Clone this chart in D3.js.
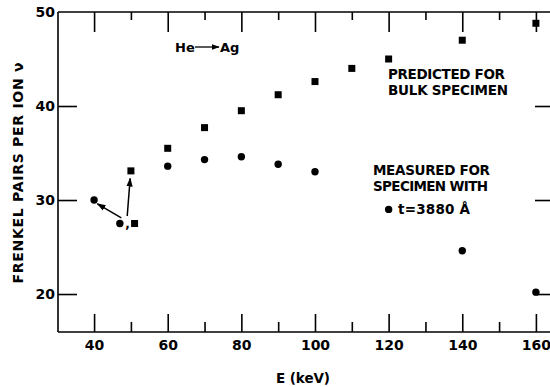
<!DOCTYPE html>
<html><head><meta charset="utf-8">
<script src="https://cdn.jsdelivr.net/npm/d3@7"></script>
<style>
body{margin:0;background:#fff;}
svg{display:block;}
text{fill:#000;}
</style></head>
<body>
<svg id="chart" width="550" height="387"></svg>
<script>
// ---- data ----
const predictedE = [50, 51, 60, 70, 80, 90, 100, 110, 120, 140, 160];
const predictedV = [33.1, 27.5, 35.5, 37.7, 39.5, 41.2, 42.6, 44.0, 45.0, 47.0, 48.8];
const measuredE = [40, 47, 60, 70, 80, 90, 100, 120, 140, 160];
const measuredV = [30.0, 27.5, 33.6, 34.3, 34.6, 33.8, 33.0, 29.0, 24.6, 20.2];
const xMajorTicks = [40, 60, 80, 100, 120, 140, 160];
const xMinorTicks = [50, 70, 90, 110, 130, 150];
const yTicks = [20, 30, 40, 50];
const yRightTicks = [20, 30, 40];
// annotation arrows [fromE, fromV, toE, toV]
const arrows = [[47.4, 28.1, 40.9, 29.6], [49.0, 28.3, 49.8, 32.3]];

const svg = d3.select("#chart");
const x = d3.scaleLinear().domain([30.2, 164.1]).range([58, 551]);
const y = d3.scaleLinear().domain([15.96, 50]).range([332, 12]);

svg.append("defs").append("marker")
  .attr("id","ah").attr("viewBox","0 0 10 10").attr("refX",9).attr("refY",5)
  .attr("markerWidth",6).attr("markerHeight",6).attr("orient","auto")
  .append("path").attr("d","M0,1.5 L10,5 L0,8.5 Z").attr("fill","#000");

const font = "'DejaVu Sans', sans-serif";
const sw = 1.6;

// frame
svg.append("line").attr("x1",x.range()[0]).attr("x2",x.range()[0]).attr("y1",y.range()[1]).attr("y2",y.range()[0]).attr("stroke","#000").attr("stroke-width",sw);
svg.append("line").attr("x1",x.range()[0]).attr("x2",x.range()[1]).attr("y1",y.range()[1]).attr("y2",y.range()[1]).attr("stroke","#000").attr("stroke-width",sw);
svg.append("line").attr("x1",x.range()[0]).attr("x2",x.range()[1]).attr("y1",y.range()[0]).attr("y2",y.range()[0]).attr("stroke","#000").attr("stroke-width",sw);

// bottom axis (ticks inward)
const gB = svg.append("g").attr("transform",`translate(0,${y.range()[0]})`)
  .call(d3.axisBottom(x).tickValues(xMajorTicks).tickSize(-18).tickPadding(-1).tickFormat(d3.format("d")));
const gBm = svg.append("g").attr("transform",`translate(0,${y.range()[0]})`)
  .call(d3.axisBottom(x).tickValues(xMinorTicks).tickSize(-10).tickFormat(""));
gB.selectAll("text").attr("dy","19px");
// top axis
const gT = svg.append("g").attr("transform",`translate(0,${y.range()[1]})`)
  .call(d3.axisTop(x).tickValues(xMajorTicks).tickSize(-20).tickFormat(""));
const gTm = svg.append("g").attr("transform",`translate(0,${y.range()[1]})`)
  .call(d3.axisTop(x).tickValues(xMinorTicks).tickSize(-8).tickFormat(""));
// left axis
const gL = svg.append("g").attr("transform",`translate(${x.range()[0]},0)`)
  .call(d3.axisLeft(y).tickValues(yTicks).tickSize(-19).tickPadding(3).tickFormat(d3.format("d")));
gL.selectAll("line").filter(d=>d===50).remove();
// right axis
const gR = svg.append("g").attr("transform",`translate(${x.range()[1]},0)`)
  .call(d3.axisRight(y).tickValues(yRightTicks).tickSize(-16).tickFormat(""));

svg.selectAll(".domain").remove();
svg.selectAll(".tick line").attr("stroke","#000").attr("stroke-width",sw);
svg.selectAll(".tick text").attr("font-family",font).attr("font-size",14).attr("font-weight","bold").attr("fill","#000");

// data
const pred = predictedE.map((e,i)=>({e, v:predictedV[i]}));
const meas = measuredE.map((e,i)=>({e, v:measuredV[i]}));
const s = 7;
svg.append("g").selectAll("rect").data(pred).join("rect")
  .attr("x",d=>x(d.e)-s/2).attr("y",d=>y(d.v)-s/2).attr("width",s).attr("height",s).attr("fill","#000");
svg.append("g").selectAll("circle").data(meas).join("circle")
  .attr("cx",d=>x(d.e)).attr("cy",d=>y(d.v)).attr("r",3.7).attr("fill","#000");

// arrows
svg.append("g").selectAll("line").data(arrows).join("line")
  .attr("x1",d=>x(d[0])).attr("y1",d=>y(d[1])).attr("x2",d=>x(d[2])).attr("y2",d=>y(d[3]))
  .attr("stroke","#000").attr("stroke-width",1.5).attr("marker-end","url(#ah)");
// comma between the two points
svg.append("text").attr("x",x(49.1)).attr("y",y(27.5)+4).attr("font-family",font).attr("font-weight","bold").attr("font-size",12).attr("text-anchor","middle").text(",");

// labels (x, y in pixels of layout; width = text length)
const lab = (txt, px, py, size, len) => {
  const t = svg.append("text").attr("x",px).attr("y",py).attr("font-family",font)
    .attr("font-weight","bold").attr("font-size",size).attr("dominant-baseline","central").text(txt);
  if (len) t.attr("textLength",len).attr("lengthAdjust","spacing");
  return t;
};

lab("He", 175, 47, 13);
svg.append("line").attr("x1",195).attr("y1",47).attr("x2",219).attr("y2",47)
  .attr("stroke","#000").attr("stroke-width",1.3).attr("marker-end","url(#ah)");
lab("Ag", 220, 47, 13);

lab("PREDICTED FOR", 388, 74, 13.5, 117);
lab("BULK SPECIMEN", 388, 90, 13.5, 120);
lab("MEASURED FOR", 373, 170, 13.5, 117);
lab("SPECIMEN WITH", 373, 186, 13.5, 115);
lab("t=3880 Å", 398, 209, 13.5, 72);

// axis titles
lab("E (keV)", 276, 378, 13.5, 54);
svg.append("text").attr("transform","translate(18,173) rotate(-90)").attr("font-family",font).attr("font-weight","bold")
  .attr("font-size",14).attr("text-anchor","middle").attr("dominant-baseline","central")
  .attr("textLength",221).attr("lengthAdjust","spacing")
  .text("FRENKEL PAIRS PER ION ν");
</script>
</body></html>
